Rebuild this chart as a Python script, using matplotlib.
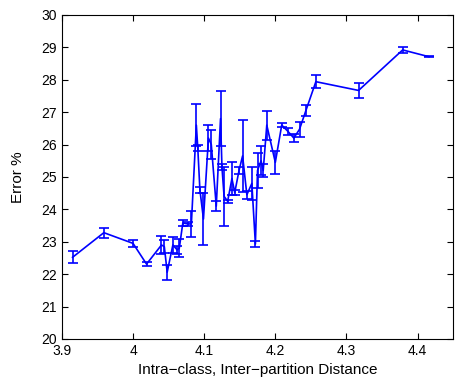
import matplotlib
matplotlib.use("Agg")
import matplotlib.pyplot as plt

plt.rcParams['font.family'] = ['Liberation Sans', 'DejaVu Sans']

dist = [3.915, 3.959, 4.000, 4.019, 4.040, 4.044, 4.048, 4.056, 4.062, 4.065,
        4.070, 4.077, 4.082, 4.089, 4.091, 4.094, 4.099, 4.106, 4.110, 4.117,
        4.123, 4.125, 4.128, 4.133, 4.139, 4.143, 4.149, 4.154, 4.160, 4.167,
        4.172, 4.175, 4.180, 4.183, 4.188, 4.200, 4.209, 4.218, 4.226, 4.234,
        4.243, 4.257, 4.317, 4.379, 4.416]
error = [22.52, 23.28, 22.95, 22.31, 22.90, 22.85, 22.06, 22.90, 22.75, 22.80,
         23.58, 23.55, 23.55, 26.60, 25.90, 24.60, 23.70, 26.20, 26.00, 24.10,
         26.80, 25.30, 24.40, 24.25, 24.95, 24.52, 25.20, 25.65, 24.45, 24.80,
         22.93, 25.20, 25.50, 25.20, 26.60, 25.45, 26.60, 26.40, 26.20, 26.47,
         27.05, 27.94, 27.67, 28.92, 28.71]
err = [0.18, 0.15, 0.10, 0.05, 0.27, 0.20, 0.23, 0.25, 0.12, 0.28,
       0.10, 0.05, 0.40, 0.65, 0.10, 0.10, 0.80, 0.40, 0.45, 0.15,
       0.85, 0.10, 0.90, 0.05, 0.50, 0.08, 0.10, 1.10, 0.12, 0.50,
       0.08, 0.55, 0.45, 0.20, 0.45, 0.35, 0.06, 0.10, 0.12, 0.24,
       0.17, 0.21, 0.22, 0.10, 0.02]

fig = plt.figure(figsize=(4.55, 3.83), dpi=100)
ax = fig.add_axes([0.136, 0.115, 0.86, 0.846])

ax.errorbar(dist, error, yerr=err, color=(0, 0, 1), linewidth=1.2,
            elinewidth=1.2, capsize=3.5, capthick=1.2)

ax.set_xlim(3.9, 4.45)
ax.set_ylim(20, 30)
ax.set_xticks([3.9, 4.0, 4.1, 4.2, 4.3, 4.4])
ax.set_xticklabels(['3.9', '4', '4.1', '4.2', '4.3', '4.4'])
ax.set_yticks(range(20, 31))
ax.tick_params(direction='in', top=True, right=True, length=4, labelsize=10)
ax.set_xlabel('Intra\u2212class, Inter\u2212partition Distance', fontsize=11)
ax.set_ylabel('Error %', fontsize=11, labelpad=12)

fig.savefig('out.png')
